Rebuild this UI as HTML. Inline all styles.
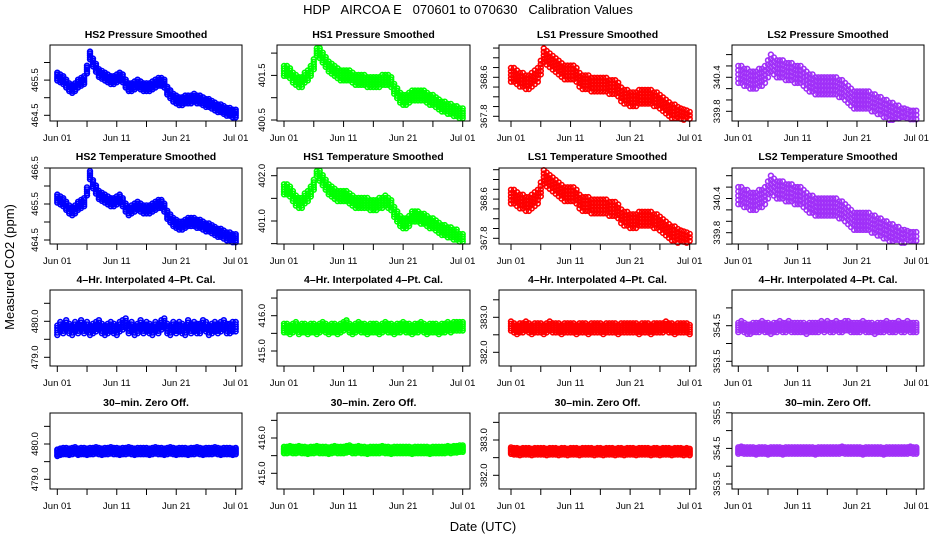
<!DOCTYPE html>
<html><head><meta charset="utf-8"><style>
html,body{margin:0;padding:0;background:#fff;}
svg{display:block;font-family:"Liberation Sans",sans-serif;}
</style></head><body>
<svg id="chart" width="936" height="540" viewBox="0 0 936 540" xmlns="http://www.w3.org/2000/svg">
<rect x="0" y="0" width="936" height="540" fill="#fff"/>
<text x="468" y="14" font-size="13" text-anchor="middle" xml:space="preserve">HDP   AIRCOA E   070601 to 070630   Calibration Values</text>
<text transform="translate(14,267) rotate(-90)" font-size="13" text-anchor="middle">Measured CO2 (ppm)</text>
<text x="483" y="531" font-size="13" text-anchor="middle">Date (UTC)</text>
</svg>
<script>
// x axis: days since Jun 01
const xTickDays = [0,5,10,15,20,25,30];
const xTickLabels = ["Jun 01","","Jun 11","","Jun 21","","Jul 01"];
const times = [];
for (let i = 0; i <= 60; i++) times.push(i * 0.5);

const titles = ["HS2 Pressure Smoothed","HS1 Pressure Smoothed","LS1 Pressure Smoothed","LS2 Pressure Smoothed",
"HS2 Temperature Smoothed","HS1 Temperature Smoothed","LS1 Temperature Smoothed","LS2 Temperature Smoothed",
"4\u2013Hr. Interpolated 4\u2013Pt. Cal.","4\u2013Hr. Interpolated 4\u2013Pt. Cal.","4\u2013Hr. Interpolated 4\u2013Pt. Cal.","4\u2013Hr. Interpolated 4\u2013Pt. Cal.",
"30\u2013min. Zero Off.","30\u2013min. Zero Off.","30\u2013min. Zero Off.","30\u2013min. Zero Off."];

const hs2P = [465.6,465.55,465.5,465.4,465.3,465.25,465.3,465.4,465.45,465.5,465.8,466.2,466.0,465.85,465.7,465.65,465.6,465.55,465.5,465.5,465.55,465.6,465.55,465.4,465.3,465.3,465.35,465.4,465.35,465.3,465.3,465.3,465.35,465.4,465.45,465.45,465.4,465.2,465.1,465.0,464.95,464.9,464.9,464.95,464.95,464.95,465.0,464.95,464.95,464.9,464.85,464.85,464.8,464.75,464.7,464.7,464.65,464.6,464.6,464.55,464.55];
const hs2T = [465.65,465.6,465.55,465.45,465.35,465.3,465.35,465.45,465.5,465.55,465.85,466.3,466.05,465.9,465.75,465.7,465.65,465.6,465.55,465.55,465.6,465.65,465.55,465.4,465.3,465.35,465.4,465.45,465.4,465.35,465.35,465.35,465.4,465.45,465.5,465.5,465.4,465.2,465.1,465.0,464.95,464.9,464.9,464.95,465.0,465.0,465.0,464.95,464.95,464.9,464.85,464.85,464.8,464.75,464.7,464.7,464.65,464.6,464.6,464.55,464.55];
const hs1P = [401.6,401.6,401.55,401.45,401.4,401.35,401.35,401.45,401.5,401.6,401.75,402.05,402.0,401.9,401.8,401.7,401.65,401.6,401.55,401.5,401.5,401.5,401.5,401.45,401.4,401.4,401.4,401.4,401.35,401.35,401.35,401.35,401.35,401.4,401.4,401.4,401.35,401.2,401.1,401.0,400.95,400.95,401.0,401.05,401.05,401.05,401.05,401.05,401.0,400.95,400.95,400.9,400.85,400.8,400.8,400.75,400.75,400.7,400.7,400.65,400.65];
const hs1T = [401.7,401.7,401.65,401.55,401.45,401.4,401.4,401.5,401.55,401.65,401.8,402.1,402.0,401.9,401.8,401.7,401.65,401.6,401.55,401.55,401.55,401.55,401.5,401.45,401.4,401.4,401.4,401.4,401.4,401.35,401.35,401.35,401.4,401.4,401.45,401.4,401.35,401.2,401.1,401.0,400.95,400.95,401.0,401.1,401.1,401.1,401.05,401.05,401.0,400.95,400.95,400.9,400.85,400.8,400.8,400.75,400.75,400.7,400.7,400.6,400.6];
const ls1P = [368.65,368.65,368.6,368.55,368.55,368.5,368.5,368.55,368.6,368.65,368.8,369.05,369.0,368.95,368.9,368.85,368.8,368.75,368.7,368.7,368.7,368.7,368.65,368.55,368.5,368.5,368.5,368.45,368.45,368.45,368.45,368.45,368.45,368.4,368.4,368.4,368.35,368.25,368.2,368.2,368.15,368.15,368.15,368.2,368.2,368.2,368.2,368.2,368.15,368.15,368.1,368.05,368.0,367.95,367.9,367.9,367.85,367.82,367.8,367.78,367.75];
const ls1T = [368.65,368.65,368.6,368.55,368.55,368.5,368.5,368.55,368.6,368.65,368.8,369.05,369.0,368.95,368.9,368.85,368.8,368.75,368.7,368.7,368.7,368.7,368.65,368.55,368.5,368.5,368.5,368.45,368.45,368.45,368.45,368.45,368.45,368.4,368.4,368.4,368.35,368.25,368.2,368.2,368.15,368.15,368.15,368.2,368.2,368.2,368.2,368.2,368.15,368.15,368.1,368.05,368.0,367.95,367.9,367.9,367.85,367.82,367.8,367.78,367.75];
const ls2P = [340.45,340.45,340.4,340.4,340.35,340.35,340.35,340.4,340.4,340.45,340.55,340.65,340.6,340.55,340.55,340.55,340.5,340.5,340.5,340.45,340.45,340.45,340.4,340.35,340.3,340.3,340.25,340.25,340.25,340.25,340.25,340.25,340.25,340.25,340.2,340.2,340.15,340.1,340.05,340.0,340.0,340.0,340.0,340.0,340.0,339.95,339.95,339.9,339.9,339.85,339.85,339.8,339.8,339.75,339.75,339.7,339.7,339.68,339.66,339.66,339.66];
const ls2T = [340.45,340.45,340.4,340.4,340.35,340.35,340.35,340.4,340.4,340.45,340.55,340.65,340.6,340.55,340.55,340.55,340.5,340.5,340.5,340.45,340.45,340.45,340.4,340.35,340.3,340.3,340.25,340.25,340.25,340.25,340.25,340.25,340.25,340.25,340.2,340.2,340.15,340.1,340.05,340.0,340.0,340.0,340.0,340.0,340.0,339.95,339.95,339.9,339.9,339.85,339.85,339.8,339.8,339.75,339.75,339.7,339.7,339.68,339.66,339.66,339.66];
const hs2Cal = [479.75,479.85,479.8,479.9,479.8,479.75,479.85,479.8,479.9,479.8,479.85,479.75,479.8,479.85,479.9,479.8,479.75,479.8,479.85,479.8,479.75,479.85,479.9,479.95,479.8,479.85,479.75,479.8,479.9,479.8,479.85,479.8,479.75,479.85,479.8,479.9,479.95,479.8,479.75,479.85,479.8,479.85,479.8,479.75,479.9,479.8,479.85,479.8,479.8,479.9,479.85,479.75,479.8,479.85,479.8,479.85,479.9,479.8,479.8,479.85,479.85];
const hs1Cal = [415.65,415.65,415.6,415.65,415.7,415.6,415.65,415.65,415.6,415.65,415.65,415.6,415.65,415.7,415.65,415.6,415.65,415.65,415.6,415.65,415.7,415.75,415.65,415.6,415.65,415.7,415.65,415.65,415.6,415.65,415.65,415.65,415.6,415.65,415.7,415.65,415.65,415.6,415.65,415.65,415.7,415.65,415.65,415.6,415.65,415.65,415.7,415.65,415.6,415.65,415.65,415.65,415.6,415.65,415.65,415.7,415.65,415.7,415.7,415.7,415.7];
const ls1Cal = [382.75,382.7,382.65,382.7,382.7,382.75,382.7,382.65,382.7,382.7,382.7,382.65,382.7,382.75,382.7,382.7,382.7,382.65,382.7,382.7,382.7,382.7,382.65,382.7,382.7,382.7,382.65,382.7,382.7,382.7,382.7,382.65,382.7,382.7,382.7,382.7,382.65,382.7,382.7,382.7,382.7,382.7,382.7,382.65,382.7,382.7,382.7,382.65,382.7,382.7,382.7,382.7,382.75,382.7,382.7,382.65,382.7,382.7,382.7,382.7,382.65];
const ls2Cal = [354.45,354.5,354.45,354.4,354.4,354.45,354.45,354.45,354.5,354.45,354.45,354.4,354.45,354.45,354.5,354.45,354.45,354.5,354.45,354.45,354.45,354.45,354.45,354.4,354.45,354.45,354.45,354.45,354.5,354.45,354.5,354.45,354.45,354.5,354.45,354.45,354.5,354.5,354.45,354.45,354.45,354.45,354.5,354.45,354.45,354.45,354.4,354.45,354.45,354.45,354.5,354.45,354.45,354.45,354.5,354.45,354.45,354.5,354.45,354.45,354.45];
const hs2Zero = [479.75,479.78,479.8,479.8,479.78,479.8,479.82,479.78,479.8,479.8,479.78,479.8,479.8,479.82,479.8,479.78,479.8,479.8,479.82,479.8,479.8,479.78,479.8,479.8,479.82,479.8,479.78,479.8,479.8,479.8,479.8,479.78,479.8,479.82,479.8,479.8,479.78,479.8,479.82,479.8,479.78,479.8,479.8,479.8,479.78,479.8,479.8,479.82,479.8,479.78,479.8,479.8,479.8,479.82,479.8,479.78,479.8,479.8,479.8,479.78,479.8];
const hs1Zero = [415.66,415.66,415.68,415.66,415.66,415.68,415.66,415.66,415.64,415.66,415.66,415.68,415.66,415.66,415.66,415.64,415.66,415.68,415.66,415.66,415.66,415.68,415.7,415.66,415.66,415.68,415.66,415.66,415.64,415.66,415.66,415.66,415.66,415.68,415.66,415.66,415.64,415.66,415.66,415.66,415.66,415.66,415.66,415.64,415.66,415.66,415.66,415.66,415.66,415.64,415.66,415.66,415.66,415.66,415.66,415.68,415.66,415.68,415.68,415.7,415.7];
const ls1Zero = [382.7,382.68,382.68,382.66,382.68,382.68,382.68,382.66,382.68,382.68,382.68,382.68,382.66,382.68,382.68,382.68,382.66,382.68,382.68,382.66,382.68,382.68,382.68,382.66,382.68,382.68,382.68,382.68,382.66,382.68,382.68,382.66,382.68,382.68,382.68,382.66,382.68,382.68,382.66,382.68,382.68,382.68,382.66,382.68,382.68,382.68,382.68,382.66,382.68,382.68,382.66,382.68,382.68,382.68,382.66,382.68,382.68,382.68,382.66,382.68,382.66];
const ls2Zero = [354.44,354.46,354.44,354.44,354.44,354.44,354.42,354.44,354.44,354.44,354.42,354.44,354.44,354.44,354.44,354.42,354.44,354.44,354.44,354.44,354.44,354.44,354.44,354.44,354.44,354.44,354.42,354.44,354.44,354.44,354.44,354.44,354.44,354.44,354.44,354.46,354.44,354.44,354.44,354.44,354.44,354.44,354.42,354.44,354.44,354.44,354.44,354.44,354.44,354.42,354.44,354.44,354.44,354.44,354.44,354.44,354.44,354.44,354.46,354.44,354.44];

const seriesList = [hs2P,hs1P,ls1P,ls2P,hs2T,hs1T,ls1T,ls2T,hs2Cal,hs1Cal,ls1Cal,ls2Cal,hs2Zero,hs1Zero,ls1Zero,ls2Zero];
const spreads = [0.11,0.11,0.14,0.15,0.11,0.11,0.14,0.15,0.13,0.12,0.13,0.13,0.09,0.09,0.09,0.09];
const yTicks = [
 [464.5,465,465.5,466],[400.5,401,401.5,402],[367.6,367.8,368,368.2,368.4,368.6,368.8,369,369.2],[339.6,339.8,340,340.2,340.4,340.6,340.8],
 [464.5,465,465.5,466,466.5],[400.5,401,401.5,402],[367.8,368,368.2,368.4,368.6,368.8,369,369.2],[339.6,339.8,340,340.2,340.4,340.6,340.8],
 [479,479.5,480,480.5],[415,415.5,416,416.5],[382,382.5,383,383.5],[353.5,354,354.5,355],
 [479,479.5,480,480.5],[415,415.5,416,416.5],[382,382.5,383,383.5],[353.5,354,354.5,355,355.5]];
const yLabels = [
 ["464.5","","465.5",""],["400.5","","401.5",""],["","367.8","","","","368.6","","",""],["","339.8","","","340.4","",""],
 ["464.5","","465.5","","466.5"],["","401.0","","402.0"],["367.8","","","","368.6","","",""],["","339.8","","","340.4","",""],
 ["479.0","","480.0",""],["415.0","","416.0",""],["382.0","","383.0",""],["353.5","","354.5",""],
 ["479.0","","480.0",""],["415.0","","416.0",""],["382.0","","383.0",""],["353.5","","354.5","","355.5"]];
const yRefVal = [464.5,400.5,367.8,339.8, 464.5,401.0,367.8,339.8, 479,415,382,353.5, 479,415,382,353.5];
const yRefPx  = [115.3,120,116.3,111.3, 240,221,238.3,232.7, 357.3,351,352.3,361.3, 479.3,473.3,475.3,484];
const yScale  = [35.2,44.6,48.75,56.7, 36,45.3,49,57, 36,35.3,35,35.6, 35.3,35.3,35.3,35.6];

const colX = [[50,242,57.3,235.7],[277,470,284,462.7],[499,696,511,689.7],[732,924,738.3,916.3]];
const rowY = [[45,121,38],[168,244,160],[290,366,283],[413,489,406]];
const colors = ["#0000ff","#00ff00","#ff0000","#a030f8"];

const svg = document.getElementById('chart');
const NS = 'http://www.w3.org/2000/svg';
function mk(tag, attrs){ const e=document.createElementNS(NS,tag); for(const k in attrs) e.setAttribute(k,attrs[k]); return e; }

for (let p = 0; p < 16; p++) {
  const c = p % 4, r = Math.floor(p / 4);
  const [bx0,bx1,d0,d30] = colX[c];
  const [by0,by1,ty] = rowY[r];
  const xS = d => d0 + d * (d30 - d0) / 30;
  const yS = v => yRefPx[p] - (v - yRefVal[p]) * yScale[p];
  const g = mk('g', {});
  
  
  svg.appendChild(g);
  const t = mk('text', {x:(bx0+bx1)/2, y:ty, 'font-size':10.5, 'font-weight':'bold', 'text-anchor':'middle'});
  
  
  t.textContent = titles[p];
  g.appendChild(t);
  const pts = mk('g', {fill:'none', stroke:colors[c], 'stroke-width':1.6});
  
  
  const vals = seriesList[p], s = spreads[p];
  for (let i = 0; i < vals.length; i++) {
    for (const off of [-s, -s/2, 0, s/2, s]) {
      const y = yS(vals[i] + off);
      if (y < by0 + 1 || y > by1 - 1) continue;
      const ci = mk('circle', {cx:xS(times[i]).toFixed(1), cy:y.toFixed(1), r:2.4});
      
      
      pts.appendChild(ci);
    }
  }
  g.appendChild(pts);
  const box = mk('rect', {x:bx0, y:by0, width:bx1-bx0, height:by1-by0, fill:'none', stroke:'#000', 'stroke-width':1});
  
  
  g.appendChild(box);
  xTickDays.forEach((d, k) => {
    const x = xS(d);
    const tk = mk('line', {x1:x, x2:x, y1:by1, y2:by1+6, stroke:'#000'});
    
    
    g.appendChild(tk);
    if (xTickLabels[k]) {
      const lb = mk('text', {x:x, y:by1+20, 'font-size':9.5, 'text-anchor':'middle'});
      
      
      lb.textContent = xTickLabels[k];
      g.appendChild(lb);
    }
  });
  yTicks[p].forEach((v, k) => {
    const y = yS(v);
    if (y < by0 - 0.5 || y > by1 + 0.5) return;
    const tk = mk('line', {x1:bx0-6, x2:bx0, y1:y, y2:y, stroke:'#000'});
    
    
    g.appendChild(tk);
    if (yLabels[p][k]) {
      const lb = mk('text', {transform:`translate(${bx0-12},${y}) rotate(-90)`, 'font-size':9.5, 'text-anchor':'middle'});
      
      
      lb.textContent = yLabels[p][k];
      g.appendChild(lb);
    }
  });
}
</script>
</body></html>
